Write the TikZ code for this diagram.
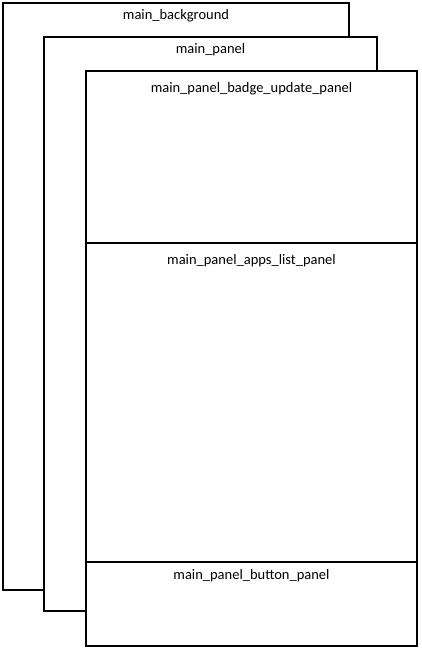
\documentclass[tikz,border=0pt]{standalone}
\usepackage{fontspec}
\setmainfont{Carlito}
\usetikzlibrary{positioning}

\tikzset{panel/.style={draw, line width=2.4pt, fill=white},
         lbl/.style={font=\fontsize{14.5}{17}\selectfont, anchor=north, inner sep=0pt}}

\begin{document}
\begin{tikzpicture}[x=1pt,y=-1pt]
		\useasboundingbox (0,0) rectangle (421,650);
		
		\draw [panel] (3,3) rectangle (349,590);
		\node [lbl] (bg) at (176,9.5) {main\_background};
		
		\draw [panel] (44,37) rectangle (377,611);
		\node [lbl] (mp) at (210.5,43) {main\_panel};
		
		\draw [panel] (86,71) rectangle (417,646);
		\draw [line width=2.4pt] (86,243) -- (417,243);
		\draw [line width=2.4pt] (86,562) -- (417,562);
		\node [lbl] (badge) at (251.5,82) {main\_panel\_badge\_update\_panel};
		\node [lbl] (apps) at (251.5,254) {main\_panel\_apps\_list\_panel};
		\node [lbl] (btn) at (251.5,569) {main\_panel\_button\_panel};
	\end{tikzpicture}
\end{document}
